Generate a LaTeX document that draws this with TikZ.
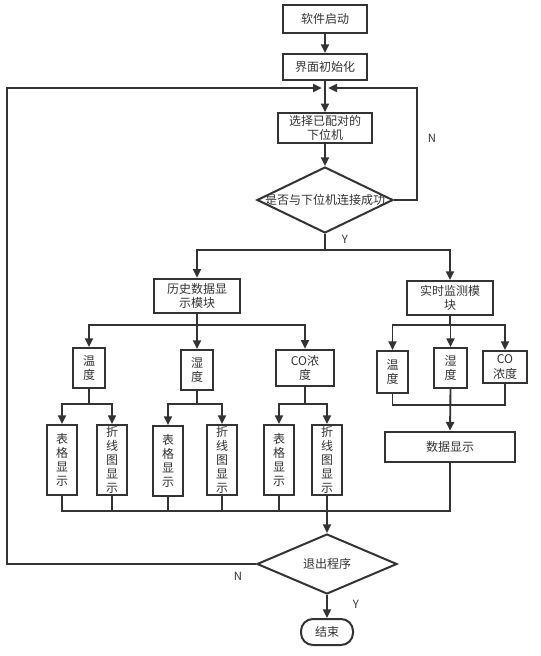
\documentclass[tikz,border=0pt]{standalone}
\usepackage{fontspec}
\setmainfont{Noto Sans CJK SC}
\definecolor{lineGray}{RGB}{51,51,51}
\usetikzlibrary{positioning, shapes.geometric, arrows.meta}

\begin{document}
\begin{tikzpicture}[
    x=0.75pt, y=-0.75pt,
    every node/.style={font=\fontsize{9}{11}\selectfont, text=lineGray},
    box/.style={draw=lineGray, line width=1.5pt, align=center, inner sep=0pt},
    leaf/.style={box, minimum width=22.5pt, minimum height=52.5pt, font=\fontsize{9}{10.5}\selectfont},
    decision/.style={diamond, draw=lineGray, line width=1.5pt, inner sep=0pt},
    arr/.style={draw=lineGray, line width=1.4pt, -{Triangle[length=6.5pt,width=6pt]}},
    ln/.style={draw=lineGray, line width=1.4pt},
    lbl/.style={font=\fontsize{8.5}{10}\selectfont},
  ]
    \useasboundingbox (0,0) rectangle (540,656);
    % start and connection
    \node[box, minimum width=63pt, minimum height=21pt] (start) at (325,19) {软件启动};
    \node[box, minimum width=63pt, minimum height=19.5pt] (init) at (325,67) {界面初始化};
    \node[box, minimum width=71pt, minimum height=22pt] (select) at (325,128) {选择已配对的\\下位机};
    \node[decision, minimum width=102pt, minimum height=49.5pt] (conn) at (325,200) {\makebox[0pt]{是否与下位机连接成功}};
    \coordinate (merge) at (325,88);
    \coordinate (loopL) at (7,88);
    \coordinate (loopR) at (417,88);
    \draw[arr] (start) -- (init);
    \draw[arr] (init) -- (select);
    \draw[arr] (select) -- (conn);
    \draw[arr, shorten >=2.5pt] (conn.east) -| (loopR) -- (merge);
    \node[lbl] (connN) at (432,138) {N};
    \node[lbl] (connY) at (345,239) {Y};
    % two modules
    \coordinate (split1) at (325,250);
    \node[box, minimum width=64.5pt, minimum height=26pt] (hist) at (197,296) {历史数据显\\示模块};
    \node[box, minimum width=64.5pt, minimum height=25.5pt] (rt) at (450,298) {实时监测模\\块};
    \draw[ln] (conn.south) -- (split1);
    \draw[arr] (split1) -| (hist);
    \draw[arr] (split1) -| (rt);
    % history module
    \coordinate (split2) at (197,325);
    \node[box, minimum width=24pt, minimum height=30pt] (htemp) at (89,368) {温\\度};
    \node[box, minimum width=23.5pt, minimum height=30pt] (hhum) at (197,370) {湿\\度};
    \node[box, minimum width=43.5pt, minimum height=27.5pt] (hco) at (305,368) {CO浓\\度};
    \draw[ln] (hist.south) -- (split2);
    \foreach \n in {htemp, hhum, hco}
      \draw[arr] (split2) -| (\n);
    % table and line chart
    \node[leaf] (ht1) at (62,460) {表\\格\\显\\示};
    \node[leaf] (ht2) at (112,460) {折\\线\\图\\显\\示};
    \node[leaf] (hh1) at (168,461) {表\\格\\显\\示};
    \node[leaf] (hh2) at (222,460) {折\\线\\图\\显\\示};
    \node[leaf] (hc1) at (279,460) {表\\格\\显\\示};
    \node[leaf] (hc2) at (327,460) {折\\线\\图\\显\\示};
    \coordinate (split3) at (89,404);
    \coordinate (split4) at (197,404);
    \coordinate (split5) at (305,404);
    \draw[ln] (htemp.south) -- (split3);
    \draw[ln] (hhum.south) -- (split4);
    \draw[ln] (hco.south) -- (split5);
    \draw[arr] (split3) -| (ht1);
    \draw[arr] (split3) -| (ht2);
    \draw[arr] (split4) -| (hh1);
    \draw[arr] (split4) -| (hh2);
    \draw[arr] (split5) -| (hc1);
    \draw[arr] (split5) -| (hc2);
    % real-time module
    \coordinate (split6) at (450,325);
    \node[box, minimum width=23.5pt, minimum height=31.5pt] (rtemp) at (392.5,372) {温\\度};
    \node[box, minimum width=24.5pt, minimum height=30pt] (rhum) at (450.5,368) {湿\\度};
    \node[box, minimum width=33pt, minimum height=24pt] (rco) at (505,367) {CO\\浓度};
    \draw[ln] (rt.south) -- (split6);
    \foreach \n in {rtemp, rhum, rco}
      \draw[arr] (split6) -| (\n);
    \node[box, minimum width=98pt, minimum height=23pt] (disp) at (450,447) {数据显示};
    \coordinate (join2) at (450,405);
    \draw[ln] (rtemp.south) |- (join2);
    \draw[ln] (rco.south) |- (join2);
    \draw[arr] (rhum.south) -- (disp.north);
    % exit
    \coordinate (join) at (327,511);
    \node[decision, minimum width=105pt, minimum height=45pt] (quit) at (327,564) {退出程序};
    \foreach \n in {ht1, ht2, hh1, hh2, hc1}
      \draw[ln] (\n.south) |- (join);
    \draw[ln] (disp.south) |- (join);
    \draw[arr] (hc2.south) -- (quit.north);
    \draw[arr, shorten >=2.5pt] (quit.west) -| (loopL) -- (merge);
    \node[lbl] (quitN) at (238,576) {N};
    \node[lbl] (quitY) at (356,604) {Y};
    \node[box, minimum width=39pt, minimum height=19.5pt, rounded corners=9pt] (stop) at (327,632) {结束};
    \draw[arr] (quit) -- (stop);
  \end{tikzpicture}
\end{document}
